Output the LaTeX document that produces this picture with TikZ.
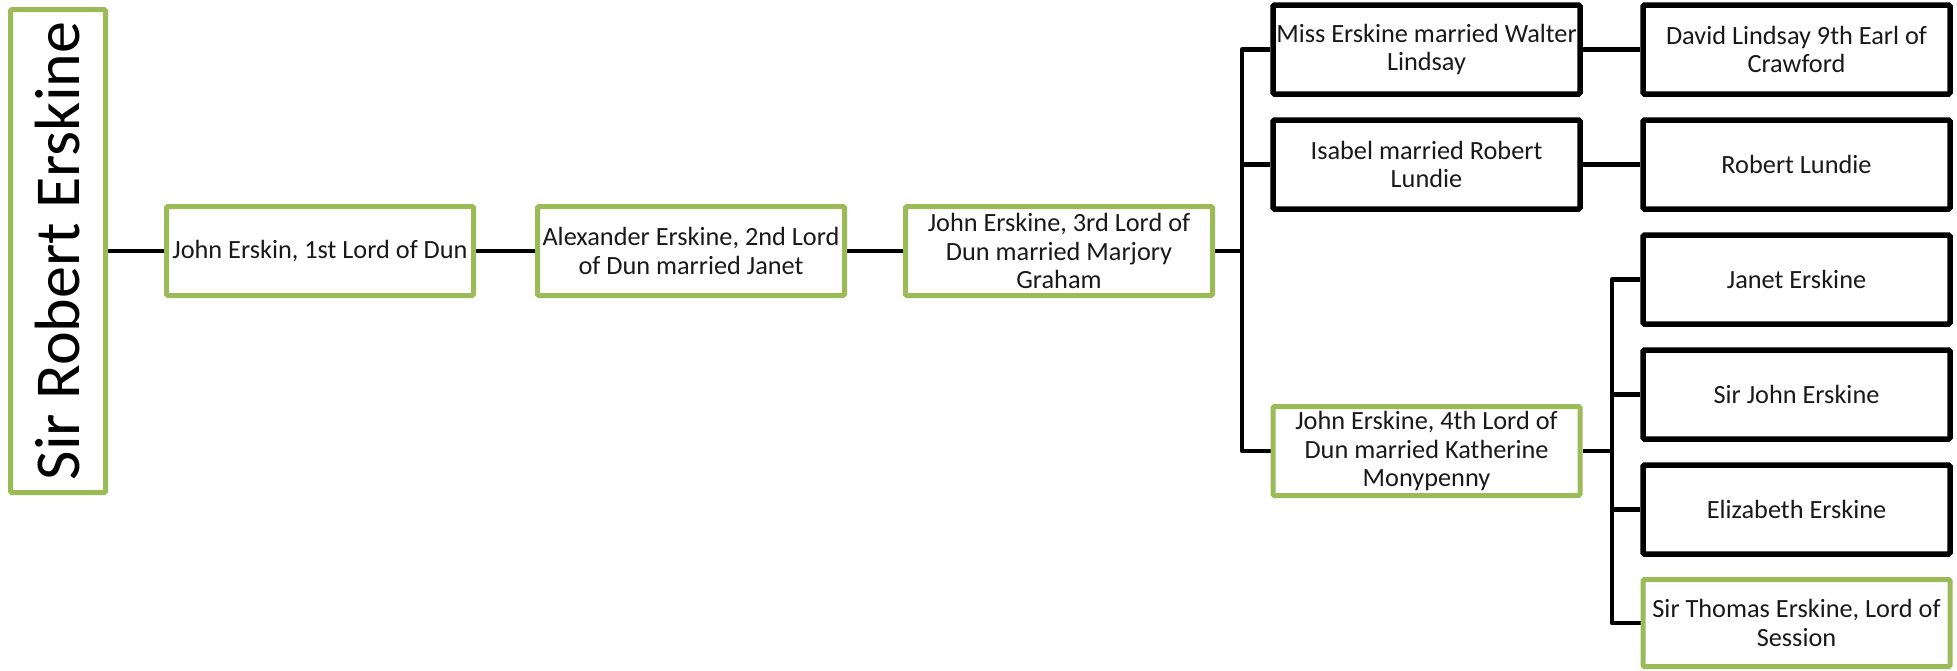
\documentclass[tikz,border=0pt]{standalone}
\usepackage{fontspec}
\usepackage{graphicx}
\setmainfont{Carlito}
\usetikzlibrary{backgrounds}
\definecolor{grn}{HTML}{9BBB59}
\definecolor{txt}{gray}{0.1}
\begin{document}
\begin{tikzpicture}[x=1pt,y=-1pt,
  box/.style={line width=5pt, rounded corners=1.5pt, minimum width=307pt, minimum height=89pt, inner sep=0pt, align=center, font=\fontsize{26.3}{28.7}\selectfont, text=txt, fill=white},
  gbox/.style={box, draw=grn},
  kbox/.style={box, draw=black, line width=5.5pt},
  conn/.style={draw=black, line width=4.8pt, line join=round}]
\useasboundingbox (0,0) rectangle (1957,670);
% root
\node[gbox, minimum width=95pt, minimum height=483pt] (root) at (58,251)
  {\rotatebox{90}{\fontsize{64}{70}\selectfont\color{black}Sir Robert Erskine}};
% main line
\node[gbox] (j1) at (320,251) {John Erskin, 1st Lord of Dun};
\node[gbox] (j2) at (691,251) {Alexander Erskine, 2nd Lord\\of Dun married Janet};
\node[gbox] (j3) at (1059,251) {John Erskine, 3rd Lord of\\Dun married Marjory\\Graham};
% column 4
\node[kbox] (miss) at (1426.5,49.5) {Miss Erskine married Walter\\Lindsay};
\node[kbox] (isa) at (1426.5,164.5) {Isabel married Robert\\Lundie};
\node[gbox] (j4) at (1426.5,451) {John Erskine, 4th Lord of\\Dun married Katherine\\Monypenny};
% column 5
\node[kbox] (david) at (1796.5,49.5) {David Lindsay 9th Earl of\\Crawford};
\node[kbox] (rl) at (1796.5,164.5) {Robert Lundie};
\node[kbox] (janet) at (1796.5,279.5) {Janet Erskine};
\node[kbox] (sirj) at (1796.5,394.5) {Sir John Erskine};
\node[kbox] (eliz) at (1796.5,509.5) {Elizabeth Erskine};
\node[gbox, minimum height=87pt] (thom) at (1796.5,623) {Sir Thomas Erskine, Lord of\\Session};
% branch points
\coordinate (b1) at (1242,251);
\coordinate (b2) at (1612,451);
\begin{scope}[on background layer]
\draw[conn] (root.east) -- (j1.west);
\draw[conn] (j1.east) -- (j2.west);
\draw[conn] (j2.east) -- (j3.west);
\draw[conn] (j3.east) -- (b1);
\draw[conn] (miss.west) -| (b1) |- (j4.west);
\draw[conn] (isa.west) -| (b1);
\draw[conn] (miss.east) -- (david.west);
\draw[conn] (isa.east) -- (rl.west);
\draw[conn] (j4.east) -- (b2);
\draw[conn] (janet.west) -| (b2) |- (thom.west);
\draw[conn] (sirj.west) -| (b2);
\draw[conn] (eliz.west) -| (b2);
\end{scope}
\end{tikzpicture}
\end{document}
